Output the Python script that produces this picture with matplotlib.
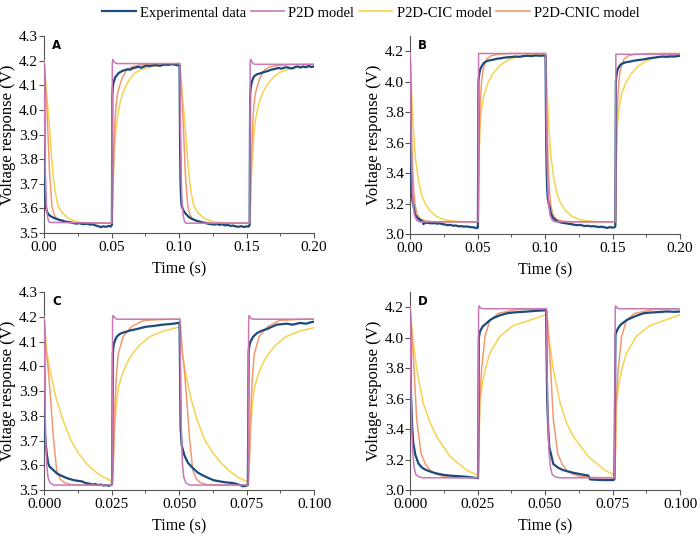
import matplotlib
matplotlib.use("Agg")
import matplotlib.pyplot as plt
from matplotlib.ticker import AutoMinorLocator, FormatStrFormatter
from matplotlib.lines import Line2D

# ---------------- data (time s, voltage V) ----------------
SERIES = ["Experimental data", "P2D model", "P2D-CIC model", "P2D-CNIC model"]

# Panel A
A_exp = [(0, 4.18), (0.0004, 3.85), (0.0008, 3.68), (0.0012, 3.625), (0.0016, 3.60), (0.002, 3.59), (0.003, 3.578),
         (0.004, 3.572), (0.005, 3.568), (0.006, 3.565), (0.007, 3.562), (0.008, 3.56), (0.009, 3.558), (0.010, 3.556),
         (0.012, 3.552), (0.014, 3.55), (0.016, 3.546), (0.018, 3.545), (0.020, 3.543), (0.022, 3.54), (0.024, 3.538),
         (0.026, 3.54), (0.028, 3.537), (0.030, 3.536), (0.032, 3.538), (0.034, 3.534), (0.036, 3.535), (0.038, 3.531),
         (0.040, 3.528), (0.042, 3.524), (0.044, 3.527), (0.046, 3.525), (0.048, 3.529), (0.0495, 3.526), (0.0503, 3.533),
         (0.0506, 4.06), (0.0510, 4.095), (0.0515, 4.11), (0.052, 4.12), (0.053, 4.135), (0.054, 4.14), (0.055, 4.148),
         (0.056, 4.152), (0.058, 4.158), (0.060, 4.162), (0.062, 4.165), (0.064, 4.163), (0.066, 4.17), (0.068, 4.172),
         (0.070, 4.175), (0.072, 4.171), (0.074, 4.176), (0.076, 4.18), (0.078, 4.178), (0.080, 4.18), (0.083, 4.182),
         (0.086, 4.179), (0.089, 4.184), (0.092, 4.183), (0.095, 4.186), (0.098, 4.182), (0.1004, 4.18),
         (0.1008, 3.85), (0.1012, 3.69), (0.1016, 3.635), (0.102, 3.61), (0.103, 3.595), (0.104, 3.585), (0.105, 3.578),
         (0.106, 3.572), (0.107, 3.566), (0.108, 3.562), (0.110, 3.556), (0.112, 3.552), (0.114, 3.548), (0.116, 3.545),
         (0.118, 3.542), (0.120, 3.54), (0.122, 3.537), (0.124, 3.536), (0.126, 3.534), (0.128, 3.537), (0.130, 3.533),
         (0.132, 3.536), (0.134, 3.531), (0.136, 3.533), (0.138, 3.529), (0.140, 3.53), (0.142, 3.527), (0.144, 3.525),
         (0.146, 3.528), (0.148, 3.524), (0.150, 3.527), (0.1515, 3.526), (0.1523, 3.532),
         (0.1527, 4.06), (0.1531, 4.09), (0.1536, 4.105), (0.154, 4.115), (0.155, 4.13), (0.156, 4.138), (0.157, 4.142),
         (0.158, 4.145), (0.160, 4.148), (0.162, 4.152), (0.164, 4.155), (0.166, 4.158), (0.168, 4.163), (0.170, 4.165),
         (0.172, 4.168), (0.174, 4.17), (0.176, 4.167), (0.178, 4.172), (0.180, 4.173), (0.182, 4.17), (0.184, 4.168),
         (0.186, 4.174), (0.188, 4.176), (0.190, 4.172), (0.192, 4.176), (0.194, 4.173), (0.196, 4.178), (0.198, 4.174),
         (0.200, 4.176)]
A_p2d = [(0, 4.20), (0.0005, 3.92), (0.001, 3.74), (0.0015, 3.64), (0.002, 3.59), (0.003, 3.555), (0.004, 3.543),
         (0.0503, 3.540), (0.0506, 4.190), (0.0510, 4.205), (0.0520, 4.193), (0.0540, 4.188), (0.1006, 4.188),
         (0.1011, 3.92), (0.1016, 3.74), (0.1021, 3.64), (0.1030, 3.575), (0.1040, 3.548), (0.1050, 3.540),
         (0.1524, 3.540), (0.1527, 4.190), (0.1531, 4.205), (0.1545, 4.190), (0.1560, 4.185), (0.2, 4.185)]
A_cic = [(0, 4.20), (0.001, 4.13), (0.0025, 4.03), (0.0037, 3.96), (0.0052, 3.84), (0.0067, 3.735), (0.0085, 3.66),
         (0.0104, 3.61), (0.013, 3.585), (0.0178, 3.56), (0.025, 3.545), (0.035, 3.54),
         (0.0504, 3.54), (0.0509, 3.64), (0.0514, 3.73), (0.0519, 3.80), (0.0524, 3.86), (0.0534, 3.93), (0.0544, 3.97),
         (0.0560, 4.02), (0.0579, 4.06), (0.0604, 4.095), (0.0634, 4.125), (0.0674, 4.15), (0.0724, 4.165),
         (0.0804, 4.176), (0.0904, 4.182),
         (0.1006, 4.185), (0.1016, 4.12), (0.1031, 4.02), (0.1043, 3.95), (0.1058, 3.84), (0.1073, 3.735), (0.1091, 3.66),
         (0.1110, 3.61), (0.1136, 3.585), (0.1184, 3.56), (0.1256, 3.545), (0.1356, 3.54),
         (0.1525, 3.54), (0.1530, 3.63), (0.1535, 3.71), (0.1540, 3.78), (0.1545, 3.83), (0.1555, 3.90), (0.1565, 3.955),
         (0.1581, 4.0), (0.1600, 4.04), (0.1625, 4.075), (0.1655, 4.105), (0.1695, 4.13), (0.1745, 4.152),
         (0.1825, 4.168), (0.1925, 4.177), (0.2, 4.18)]
A_cnic = [(0, 4.20), (0.001, 4.12), (0.0025, 3.96), (0.0042, 3.735), (0.0059, 3.61), (0.0075, 3.575), (0.0091, 3.56),
          (0.012, 3.55), (0.0165, 3.545), (0.025, 3.54),
          (0.0504, 3.54), (0.0509, 3.65), (0.0514, 3.75), (0.0519, 3.84), (0.0526, 3.96), (0.0534, 4.02), (0.0544, 4.065),
          (0.0558, 4.094), (0.0579, 4.13), (0.0612, 4.162), (0.0654, 4.175), (0.0704, 4.182), (0.0804, 4.186),
          (0.1006, 4.188), (0.1016, 4.11), (0.1031, 3.95), (0.1048, 3.73), (0.1065, 3.61), (0.1081, 3.575),
          (0.1097, 3.56), (0.1126, 3.55), (0.1171, 3.545), (0.1256, 3.54),
          (0.1525, 3.54), (0.1530, 3.65), (0.1535, 3.75), (0.1540, 3.84), (0.1547, 3.96), (0.1555, 4.02), (0.1565, 4.065),
          (0.1579, 4.094), (0.1600, 4.13), (0.1633, 4.162), (0.1675, 4.175), (0.1725, 4.18), (0.1825, 4.184), (0.2, 4.185)]

# Panel B
B_exp = [(0, 4.15), (0.0004, 3.70), (0.0008, 3.42), (0.0012, 3.30), (0.0016, 3.24), (0.002, 3.21), (0.003, 3.17),
         (0.0037, 3.13), (0.005, 3.11), (0.007, 3.095), (0.009, 3.085), (0.0096, 3.08), (0.010, 3.065), (0.0105, 3.07),
         (0.012, 3.075), (0.014, 3.072), (0.016, 3.07), (0.018, 3.072), (0.020, 3.068), (0.022, 3.07), (0.024, 3.065),
         (0.026, 3.062), (0.028, 3.058), (0.030, 3.06), (0.032, 3.054), (0.034, 3.056), (0.036, 3.05), (0.038, 3.052),
         (0.040, 3.048), (0.042, 3.05), (0.044, 3.046), (0.046, 3.045), (0.048, 3.042), (0.0495, 3.038), (0.0503, 3.045),
         (0.0507, 4.0), (0.051, 4.03), (0.0515, 4.06), (0.052, 4.08), (0.053, 4.10), (0.054, 4.115), (0.055, 4.125),
         (0.0568, 4.135), (0.058, 4.138), (0.060, 4.142), (0.062, 4.145), (0.064, 4.15), (0.066, 4.152), (0.068, 4.155),
         (0.070, 4.158), (0.072, 4.16), (0.075, 4.162), (0.078, 4.165), (0.081, 4.163), (0.084, 4.168), (0.087, 4.17),
         (0.090, 4.168), (0.093, 4.172), (0.096, 4.17), (0.099, 4.172), (0.1004, 4.17),
         (0.1008, 3.70), (0.1012, 3.42), (0.1016, 3.30), (0.102, 3.24), (0.1025, 3.21), (0.1035, 3.17), (0.1045, 3.13),
         (0.106, 3.105), (0.108, 3.09), (0.110, 3.08), (0.112, 3.075), (0.114, 3.072), (0.116, 3.07), (0.118, 3.066),
         (0.120, 3.064), (0.122, 3.06), (0.124, 3.058), (0.126, 3.06), (0.128, 3.055), (0.130, 3.052), (0.132, 3.054),
         (0.134, 3.05), (0.136, 3.052), (0.138, 3.048), (0.140, 3.046), (0.142, 3.048), (0.144, 3.044), (0.146, 3.04),
         (0.148, 3.045), (0.150, 3.042), (0.1515, 3.044), (0.1521, 3.05),
         (0.1525, 4.0), (0.1528, 4.03), (0.1533, 4.06), (0.154, 4.085), (0.155, 4.10), (0.156, 4.112), (0.158, 4.122),
         (0.160, 4.128), (0.163, 4.132), (0.166, 4.138), (0.169, 4.142), (0.172, 4.145), (0.175, 4.15), (0.178, 4.155),
         (0.181, 4.158), (0.184, 4.162), (0.187, 4.165), (0.190, 4.163), (0.193, 4.166), (0.196, 4.165), (0.198, 4.168),
         (0.200, 4.17)]
B_p2d = [(0, 4.19), (0.0006, 3.75), (0.0012, 3.45), (0.0018, 3.28), (0.0025, 3.18), (0.0035, 3.12), (0.005, 3.09),
         (0.007, 3.08), (0.0505, 3.08), (0.0508, 4.185), (0.1004, 4.185), (0.101, 3.75), (0.1016, 3.45), (0.1022, 3.28),
         (0.1029, 3.18), (0.1039, 3.12), (0.1054, 3.09), (0.1074, 3.08), (0.1522, 3.08), (0.1525, 4.18), (0.2, 4.18)]
B_cic = [(0, 4.19), (0.001, 3.95), (0.0025, 3.686), (0.004, 3.50), (0.0062, 3.356), (0.0085, 3.26), (0.011, 3.204),
         (0.015, 3.15), (0.0198, 3.114), (0.025, 3.095), (0.032, 3.085), (0.04, 3.08),
         (0.0506, 3.08), (0.0510, 3.40), (0.0515, 3.60), (0.0520, 3.72), (0.0530, 3.82), (0.0550, 3.92), (0.0580, 4.0),
         (0.0620, 4.06), (0.0670, 4.11), (0.0730, 4.145), (0.0800, 4.165), (0.0900, 4.178), (0.1000, 4.183),
         (0.1005, 4.183), (0.1015, 3.95), (0.1030, 3.686), (0.1045, 3.50), (0.1067, 3.356), (0.1090, 3.26),
         (0.1115, 3.204), (0.1155, 3.15), (0.1203, 3.114), (0.1255, 3.095), (0.1325, 3.085), (0.1405, 3.08),
         (0.1523, 3.08), (0.1527, 3.40), (0.1532, 3.60), (0.1537, 3.72), (0.1547, 3.82), (0.1567, 3.92), (0.1597, 3.99),
         (0.1637, 4.05), (0.1687, 4.10), (0.1747, 4.135), (0.1817, 4.158), (0.1917, 4.172), (0.2, 4.178)]
B_cnic = [(0, 4.19), (0.0006, 3.90), (0.0012, 3.65), (0.002, 3.42), (0.003, 3.26), (0.004, 3.18), (0.005, 3.14),
          (0.0065, 3.11), (0.0085, 3.095), (0.012, 3.085), (0.018, 3.08),
          (0.0506, 3.08), (0.0510, 3.45), (0.0515, 3.70), (0.0520, 3.85), (0.0530, 4.0), (0.0540, 4.07), (0.0550, 4.11),
          (0.0570, 4.15), (0.0600, 4.17), (0.0650, 4.18), (0.0750, 4.185),
          (0.1005, 4.185), (0.1011, 3.90), (0.1017, 3.65), (0.1025, 3.42), (0.1035, 3.26), (0.1045, 3.18), (0.1055, 3.14),
          (0.1070, 3.11), (0.1090, 3.095), (0.1125, 3.085), (0.1185, 3.08),
          (0.1523, 3.08), (0.1527, 3.45), (0.1532, 3.70), (0.1537, 3.85), (0.1547, 4.0), (0.1557, 4.07), (0.1567, 4.11),
          (0.1587, 4.15), (0.1617, 4.17), (0.1667, 4.18), (0.1767, 4.185), (0.2, 4.185)]

# Panel C
C_exp = [(0, 4.18), (0.0002, 3.85), (0.0004, 3.72), (0.0007, 3.68), (0.001, 3.65), (0.0015, 3.61), (0.002, 3.595),
         (0.003, 3.585), (0.004, 3.575), (0.005, 3.565), (0.006, 3.56), (0.007, 3.555), (0.008, 3.55), (0.009, 3.546),
         (0.010, 3.543), (0.011, 3.54), (0.012, 3.538), (0.013, 3.536), (0.014, 3.535), (0.015, 3.53), (0.016, 3.527),
         (0.017, 3.525), (0.018, 3.522), (0.019, 3.524), (0.020, 3.52), (0.021, 3.522), (0.022, 3.518), (0.023, 3.52),
         (0.024, 3.517), (0.0248, 3.52), (0.0252, 3.525),
         (0.0255, 4.05), (0.0257, 4.08), (0.026, 4.095), (0.0265, 4.11), (0.027, 4.12), (0.028, 4.13), (0.029, 4.135),
         (0.0306, 4.14), (0.032, 4.145), (0.0343, 4.15), (0.036, 4.155), (0.038, 4.16), (0.040, 4.162), (0.042, 4.165),
         (0.044, 4.168), (0.046, 4.17), (0.048, 4.172), (0.0502, 4.176),
         (0.0506, 3.75), (0.051, 3.68), (0.052, 3.64), (0.0533, 3.61), (0.055, 3.59), (0.057, 3.57), (0.059, 3.558),
         (0.061, 3.548), (0.0627, 3.54), (0.064, 3.537), (0.066, 3.533), (0.068, 3.53), (0.0701, 3.528), (0.072, 3.522),
         (0.0738, 3.515), (0.0748, 3.517), (0.0755, 3.52),
         (0.0758, 4.06), (0.076, 4.08), (0.0765, 4.10), (0.0775, 4.12), (0.079, 4.135), (0.081, 4.145), (0.0825, 4.15),
         (0.0845, 4.16), (0.0862, 4.168), (0.088, 4.17), (0.090, 4.172), (0.092, 4.168), (0.0948, 4.175), (0.097, 4.172),
         (0.099, 4.178), (0.1, 4.18)]
C_p2d = [(0, 4.2), (0.0003, 3.90), (0.0006, 3.72), (0.001, 3.60), (0.0015, 3.55), (0.0022, 3.53), (0.0035, 3.52),
         (0.0252, 3.52), (0.0254, 4.19), (0.0256, 4.205), (0.026, 4.198), (0.027, 4.19), (0.0503, 4.19), (0.0506, 3.90),
         (0.0509, 3.72), (0.0513, 3.60), (0.0518, 3.55), (0.0525, 3.53), (0.0538, 3.52), (0.0756, 3.52), (0.0758, 4.19),
         (0.076, 4.205), (0.0764, 4.195), (0.0774, 4.19), (0.1, 4.19)]
C_cic = [(0, 4.2), (0.001, 4.06), (0.0022, 3.985), (0.0045, 3.87), (0.0071, 3.78), (0.010, 3.70), (0.0127, 3.65),
         (0.0155, 3.61), (0.0183, 3.58), (0.0215, 3.555), (0.0244, 3.54), (0.0253, 3.535),
         (0.0257, 3.64), (0.0262, 3.76), (0.0268, 3.85), (0.0275, 3.91), (0.0286, 3.955), (0.0300, 3.995),
         (0.0313, 4.025), (0.0331, 4.055), (0.0353, 4.085), (0.0393, 4.12), (0.0442, 4.142), (0.0500, 4.158),
         (0.0504, 4.158), (0.0512, 4.06), (0.0522, 3.985), (0.0544, 3.87), (0.0568, 3.78), (0.0596, 3.70),
         (0.0626, 3.65), (0.0655, 3.61), (0.0689, 3.575), (0.0720, 3.55), (0.0751, 3.535), (0.0757, 3.53),
         (0.0761, 3.64), (0.0766, 3.76), (0.0772, 3.85), (0.0779, 3.91), (0.0790, 3.955), (0.0804, 3.995),
         (0.0817, 4.025), (0.0835, 4.055), (0.0857, 4.085), (0.0897, 4.12), (0.0946, 4.142), (0.1, 4.156)]
C_cnic = [(0, 4.2), (0.0008, 4.06), (0.0016, 3.985), (0.0025, 3.86), (0.0035, 3.71), (0.0047, 3.58), (0.006, 3.545),
          (0.0075, 3.53), (0.010, 3.522), (0.014, 3.52),
          (0.0253, 3.52), (0.0257, 3.62), (0.0263, 3.85), (0.0268, 3.96), (0.0275, 4.05), (0.0293, 4.12), (0.0324, 4.16),
          (0.0368, 4.185), (0.0453, 4.19),
          (0.0504, 4.19), (0.0512, 4.06), (0.0520, 3.985), (0.0529, 3.86), (0.0539, 3.71), (0.0551, 3.58),
          (0.0564, 3.545), (0.0579, 3.53), (0.0604, 3.522), (0.0644, 3.52),
          (0.0757, 3.52), (0.0761, 3.62), (0.0767, 3.85), (0.0772, 3.96), (0.0779, 4.05), (0.0797, 4.12), (0.0828, 4.16),
          (0.0872, 4.185), (0.0957, 4.19), (0.1, 4.19)]

# Panel D
D_exp = [(0, 4.18), (0.0002, 3.85), (0.0004, 3.61), (0.0008, 3.42), (0.0012, 3.31), (0.002, 3.23), (0.0031, 3.175),
         (0.004, 3.155), (0.005, 3.14), (0.0062, 3.13), (0.008, 3.118), (0.010, 3.108), (0.0123, 3.10), (0.014, 3.096),
         (0.016, 3.093), (0.0185, 3.09), (0.020, 3.088), (0.022, 3.085), (0.024, 3.08), (0.0252, 3.078),
         (0.0255, 4.0), (0.0259, 4.04), (0.0265, 4.06), (0.027, 4.075), (0.028, 4.09), (0.0296, 4.115), (0.031, 4.13),
         (0.033, 4.145), (0.0358, 4.16), (0.038, 4.165), (0.040, 4.168), (0.042, 4.17), (0.0457, 4.175), (0.048, 4.178),
         (0.0504, 4.18),
         (0.0508, 3.60), (0.0512, 3.40), (0.0516, 3.28), (0.0531, 3.17), (0.055, 3.145), (0.0568, 3.13), (0.060, 3.115),
         (0.0642, 3.10), (0.066, 3.095), (0.0667, 3.07), (0.068, 3.068), (0.070, 3.066), (0.072, 3.065), (0.0753, 3.065),
         (0.0757, 3.07),
         (0.0761, 4.02), (0.0765, 4.04), (0.077, 4.06), (0.078, 4.085), (0.0802, 4.115), (0.082, 4.13), (0.084, 4.145),
         (0.0864, 4.16), (0.089, 4.165), (0.092, 4.168), (0.095, 4.172), (0.098, 4.17), (0.1, 4.172)]
D_p2d = [(0, 4.2), (0.0003, 3.75), (0.0006, 3.45), (0.001, 3.25), (0.0015, 3.15), (0.0022, 3.10), (0.0035, 3.085),
         (0.005, 3.08), (0.0252, 3.08), (0.0254, 4.19), (0.0256, 4.21), (0.026, 4.195), (0.027, 4.19), (0.0505, 4.19),
         (0.0508, 3.75), (0.0511, 3.45), (0.0515, 3.25), (0.052, 3.15), (0.0527, 3.10), (0.054, 3.085), (0.0555, 3.08),
         (0.0758, 3.08), (0.076, 4.19), (0.0762, 4.21), (0.0766, 4.195), (0.0776, 4.19), (0.1, 4.19)]
D_cic = [(0, 4.2), (0.001, 4.0), (0.0025, 3.79), (0.0049, 3.57), (0.0075, 3.44), (0.0099, 3.35), (0.0148, 3.22),
         (0.021, 3.13), (0.0247, 3.10), (0.0253, 3.095),
         (0.0259, 3.57), (0.0268, 3.70), (0.0278, 3.79), (0.0296, 3.90), (0.0333, 4.01), (0.0383, 4.08), (0.0444, 4.115),
         (0.0500, 4.15),
         (0.0506, 4.15), (0.0516, 3.98), (0.0531, 3.79), (0.0556, 3.57), (0.0580, 3.44), (0.0605, 3.35), (0.0660, 3.22),
         (0.0722, 3.13), (0.0755, 3.10), (0.0759, 3.095),
         (0.0765, 3.57), (0.0774, 3.70), (0.0784, 3.79), (0.0802, 3.90), (0.0839, 4.01), (0.0889, 4.08), (0.0944, 4.115),
         (0.1, 4.15)]
D_cnic = [(0, 4.2), (0.0008, 4.0), (0.0015, 3.79), (0.0025, 3.46), (0.0041, 3.24), (0.0057, 3.17), (0.0074, 3.13),
          (0.0095, 3.105), (0.0123, 3.09), (0.017, 3.082),
          (0.0253, 3.08), (0.0258, 3.58), (0.0265, 3.79), (0.0278, 4.01), (0.0296, 4.115), (0.0327, 4.16),
          (0.0395, 4.185), (0.0493, 4.19),
          (0.0506, 4.19), (0.0514, 4.0), (0.0521, 3.79), (0.0531, 3.46), (0.0547, 3.24), (0.0563, 3.17), (0.0580, 3.13),
          (0.0601, 3.105), (0.0629, 3.09), (0.0676, 3.082),
          (0.0759, 3.08), (0.0764, 3.58), (0.0771, 3.79), (0.0784, 4.01), (0.0802, 4.115), (0.0833, 4.16),
          (0.0901, 4.185), (0.1, 4.19)]

PANEL_LABELS = ["A", "B", "C", "D"]
A_xticks = [0.00, 0.05, 0.10, 0.15, 0.20]
C_xticks = [0.000, 0.025, 0.050, 0.075, 0.100]
A_yticks = [3.5, 3.6, 3.7, 3.8, 3.9, 4.0, 4.1, 4.2, 4.3]
B_yticks = [3.0, 3.2, 3.4, 3.6, 3.8, 4.0, 4.2]

# ---------------- styling ----------------
COLORS = {"exp": "#1D4A7A", "p2d": "#C879B6", "cic": "#F6D24E", "cnic": "#F19A72"}
SERIF = ["Liberation Serif", "DejaVu Serif"]
plt.rcParams["font.family"] = SERIF

fig = plt.figure(figsize=(7.0, 5.39), dpi=100)
W, H = 700.0, 539.0


def make_ax(left, top, right, bottom):
    return fig.add_axes([left / W, 1 - bottom / H, (right - left) / W, (bottom - top) / H])


axes = [make_ax(44, 36, 314, 233), make_ax(410, 36, 680, 234),
        make_ax(44, 292, 314, 490), make_ax(410, 292, 680, 490)]

panels = [
    (A_exp, A_p2d, A_cic, A_cnic, (0, 0.2), (3.5, 4.3), A_xticks, A_yticks, "%.2f", "%.1f"),
    (B_exp, B_p2d, B_cic, B_cnic, (0, 0.2), (3.0, 4.3), A_xticks, B_yticks, "%.2f", "%.1f"),
    (C_exp, C_p2d, C_cic, C_cnic, (0, 0.1), (3.5, 4.3), C_xticks, A_yticks, "%.3f", "%.1f"),
    (D_exp, D_p2d, D_cic, D_cnic, (0, 0.1), (3.0, 4.3), C_xticks, B_yticks, "%.3f", "%.1f"),
]

for ax, lab, (exp, p2d, cic, cnic, xl, yl, xt, yt, xf, yf) in zip(axes, PANEL_LABELS, panels):
    for data, key, lw, z in [(cic, "cic", 1.1, 2), (cnic, "cnic", 1.1, 3), (exp, "exp", 1.6, 4), (p2d, "p2d", 1.1, 5)]:
        t, v = zip(*data)
        ax.plot(t, v, color=COLORS[key], lw=lw, zorder=z, solid_joinstyle="round")
    ax.set_xlim(*xl)
    ax.set_ylim(*yl)
    ax.set_xticks(xt)
    ax.set_yticks(yt)
    ax.xaxis.set_major_formatter(FormatStrFormatter(xf))
    ax.yaxis.set_major_formatter(FormatStrFormatter(yf))
    ax.xaxis.set_minor_locator(AutoMinorLocator(2))
    for s in ["top", "right"]:
        ax.spines[s].set_visible(False)
    for s in ["left", "bottom"]:
        ax.spines[s].set_color("#555555")
        ax.spines[s].set_linewidth(0.8)
    ax.tick_params(which="major", direction="out", length=3.5, width=0.8, color="#555555", labelsize=11)
    ax.tick_params(axis="x", which="major", pad=2.5)
    ax.tick_params(axis="y", which="major", pad=1.0)
    ax.tick_params(which="minor", direction="out", length=2, width=0.7, color="#555555")
    ax.set_xlabel("Time (s)", fontsize=11.5)
    ax.set_ylabel("Voltage response (V)", fontsize=12)
    ax.xaxis.set_label_coords(0.5, -0.145)
    ax.yaxis.set_label_coords(-0.105, 0.5)
    ax.text(0.03, 0.985, lab, transform=ax.transAxes, ha="left", va="top",
            fontsize=8.5, fontweight="bold", family="DejaVu Sans")

handles = [Line2D([], [], color=COLORS[k], lw=1.6 if k == "exp" else 1.2) for k in ["exp", "p2d", "cic", "cnic"]]
fig.legend(handles, SERIES, loc="center", bbox_to_anchor=(0.53, 1 - 13 / H), ncol=4, frameon=False,
           fontsize=10.5, handlelength=2.3, handletextpad=0.3, columnspacing=0.3, borderaxespad=0)

fig.savefig("out.png", dpi=100, facecolor="white")
